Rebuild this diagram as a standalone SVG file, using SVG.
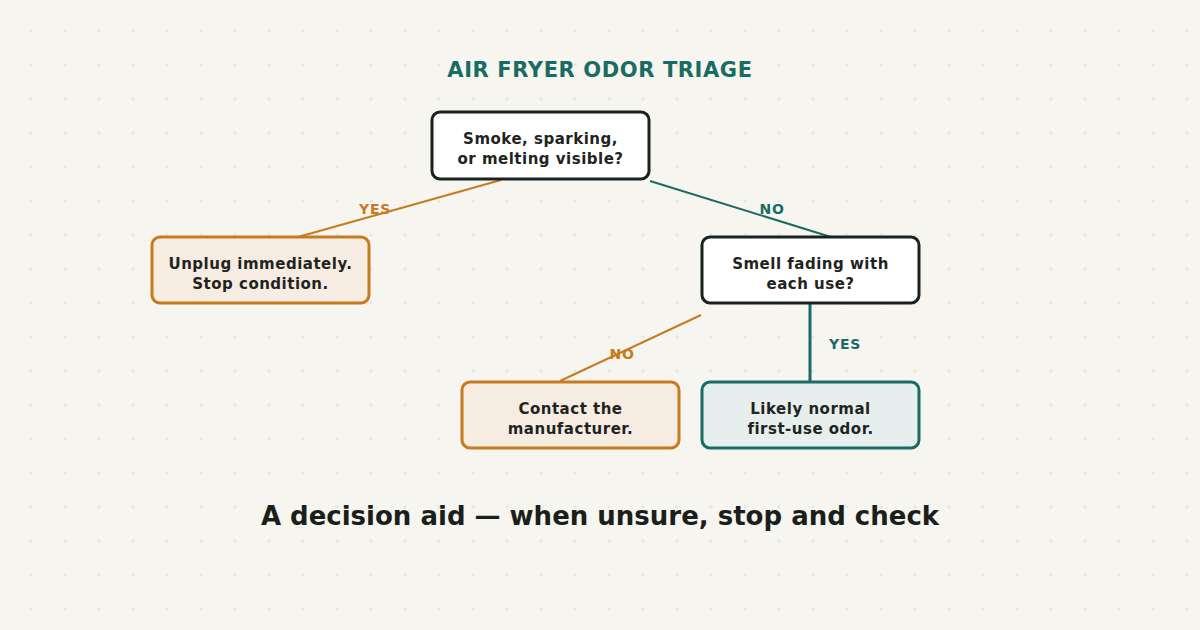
<svg xmlns="http://www.w3.org/2000/svg" width="1200" height="630" viewBox="0 0 1200 630">
<defs>
<pattern id="grid" x="0" y="0" width="34" height="34" patternUnits="userSpaceOnUse">
<path d="M29 31h4M31 29v4" stroke="#e6e4dc" stroke-width="1"/>
</pattern>
<style>
.node text{font-family:"DejaVu Sans",sans-serif;font-weight:bold;font-size:15px;letter-spacing:0.5px;fill:#1f2421;text-anchor:middle}
.q rect{fill:#ffffff;stroke:#1a2220;stroke-width:3}
.stop rect{fill:#f6ece1;stroke:#c87a20;stroke-width:3}
.ok rect{fill:#e6efee;stroke:#1a6b63;stroke-width:3}
.lbl{font-family:"DejaVu Sans",sans-serif;font-weight:bold;font-size:14px;letter-spacing:0.7px;text-anchor:middle}
.o{stroke:#c87a20;fill:none}
.t{stroke:#1a6b63;fill:none}
</style>
</defs>
<rect width="1200" height="630" fill="#f6f5ef"/>
<rect width="1200" height="630" fill="url(#grid)"/>
<text x="600" y="77" font-family="DejaVu Sans, sans-serif" font-weight="bold" font-size="21" letter-spacing="0.6" fill="#1a6b63" text-anchor="middle">AIR FRYER ODOR TRIAGE</text>
<g id="connectors">
<line class="o" x1="501" y1="180" x2="298" y2="237" stroke-width="2"/>
<text class="lbl" x="375" y="214" fill="#c87a20">YES</text>
<line class="t" x1="650" y1="181" x2="831" y2="237" stroke-width="2"/>
<text class="lbl" x="772" y="214" fill="#1a6b63">NO</text>
<line class="o" x1="701" y1="315" x2="560" y2="381" stroke-width="2"/>
<text class="lbl" x="622" y="359" fill="#c87a20">NO</text>
<line class="t" x1="810" y1="304" x2="810" y2="381" stroke-width="3"/>
<text class="lbl" x="845" y="349" fill="#1a6b63">YES</text>
</g>
<g id="n1" class="node q">
<rect x="432" y="112" width="217" height="67" rx="8"/>
<text x="540.5" y="144">Smoke, sparking,</text>
<text x="540.5" y="164">or melting visible?</text>
</g>
<g id="n2" class="node stop">
<rect x="152" y="237" width="217" height="66" rx="8"/>
<text x="260.5" y="269">Unplug immediately.</text>
<text x="260.5" y="289">Stop condition.</text>
</g>
<g id="n3" class="node q">
<rect x="702" y="237" width="217" height="66" rx="8"/>
<text x="810.5" y="269">Smell fading with</text>
<text x="810.5" y="289">each use?</text>
</g>
<g id="n4" class="node stop">
<rect x="462" y="382" width="217" height="66" rx="8"/>
<text x="570.5" y="414">Contact the</text>
<text x="570.5" y="434">manufacturer.</text>
</g>
<g id="n5" class="node ok">
<rect x="702" y="382" width="217" height="66" rx="8"/>
<text x="810.5" y="414">Likely normal</text>
<text x="810.5" y="434">first-use odor.</text>
</g>
<text x="600" y="525" font-family="DejaVu Sans, sans-serif" font-weight="bold" font-size="26" fill="#1a1f1c" text-anchor="middle">A decision aid — when unsure, stop and check</text>
</svg>
